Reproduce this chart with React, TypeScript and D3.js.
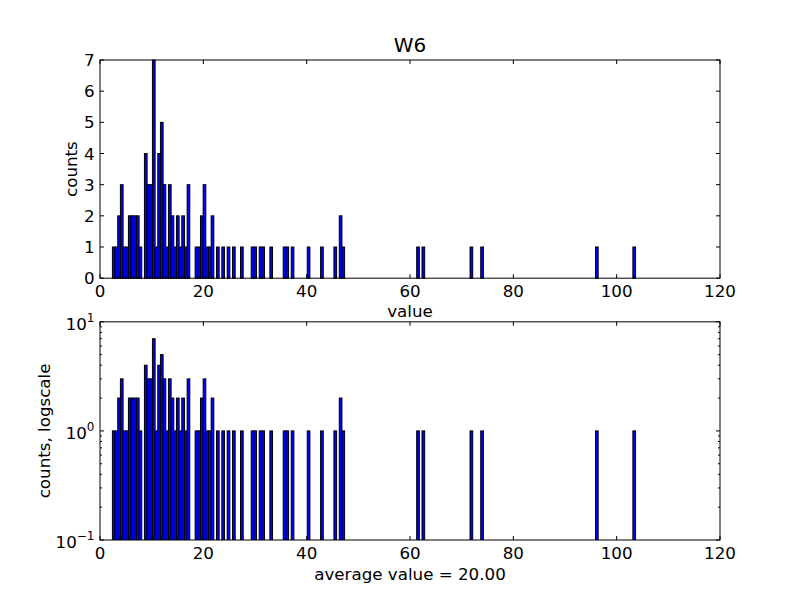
import React from "react";
import * as d3 from "d3";

// Histogram: equal bins starting at binStart, width binWidth (data units)
const binStart = 2.4;
const binWidth = 0.5166;
const binIndex = [0,1,2,3,4,5,6,7,8,9,10,12,13,14,15,16,17,18,19,20,21,22,23,24,25,26,27,28,31,32,33,34,35,36,37,39,41,43,45,48,52,53,55,56,59,64,65,67,73,78,83,85,86,114,116,134,138,181,195];
const binCounts = [1,1,2,3,1,1,2,2,2,2,1,4,3,3,7,1,4,5,3,1,3,2,1,2,1,2,1,3,1,1,2,3,1,1,2,1,1,1,1,1,1,1,1,1,1,1,1,1,1,1,1,2,1,1,1,1,1,1,1];

const xTicks = [0, 20, 40, 60, 80, 100, 120];
const yTicksTop = [0, 1, 2, 3, 4, 5, 6, 7];
const yTicksLog = [{ v: 0.1, e: "\u22121" }, { v: 1, e: "0" }, { v: 10, e: "1" }];
const titleText = "W6";
const topYLabel = "counts";
const topXLabel = "value";
const botYLabel = "counts, logscale";
const botXLabel = "average value = 20.00";

const W = 800, H = 600;
const L = 100, R = 720;
const topT = 60, topB = 278.18;
const botT = 321.82, botB = 540;
const FS = 16.7;
const font = "DejaVu Sans";

export default function App() {
  const x = d3.scaleLinear().domain([0, 120]).range([L, R]);
  const yTop = d3.scaleLinear().domain([0, 7]).range([topB, topT]);
  const yLog = d3.scaleLog().domain([0.1, 10]).range([botB, botT]);

  const bins = binIndex.map((b, i) => {
    const x0 = binStart + b * binWidth;
    return { x0, x1: x0 + binWidth, c: binCounts[i] };
  });

  const minorLog: number[] = [];
  [0.1, 1].forEach((dec) => {
    for (let k = 2; k <= 9; k++) minorLog.push(dec * k);
  });

  const xTickMarks = (top: number, bot: number) =>
    xTicks.map((t) => (
      <g key={"xt" + t + top}>
        <line x1={x(t)} x2={x(t)} y1={bot} y2={bot - 4} stroke="black" strokeWidth={1} />
        <line x1={x(t)} x2={x(t)} y1={top} y2={top + 4} stroke="black" strokeWidth={1} />
        <text x={x(t)} y={bot + 19} textAnchor="middle" fontSize={FS} fontFamily={font}>
          {t}
        </text>
      </g>
    ));

  return (
    <svg width={W} height={H} style={{ position: "absolute", left: 0, top: 0, background: "white" }}>
      <rect x={0} y={0} width={W} height={H} fill="white" />
      {/* Top axes */}
      <rect x={L} y={topT} width={R - L} height={topB - topT} fill="white" />
      {bins.map((b, i) => (
        <rect
          key={"bt" + i}
          x={x(b.x0)}
          y={yTop(b.c)}
          width={x(b.x1) - x(b.x0)}
          height={yTop(0) - yTop(b.c)}
          fill="#0000ff"
          stroke="black"
          strokeWidth={1}
        />
      ))}
      <rect x={L} y={topT} width={R - L} height={topB - topT} fill="none" stroke="black" strokeWidth={1} />
      {xTickMarks(topT, topB)}
      {yTicksTop.map((t) => (
        <g key={"yt" + t}>
          <line x1={L} x2={L + 4} y1={yTop(t)} y2={yTop(t)} stroke="black" strokeWidth={1} />
          <line x1={R} x2={R - 4} y1={yTop(t)} y2={yTop(t)} stroke="black" strokeWidth={1} />
          <text x={L - 5.5} y={yTop(t) + 6} textAnchor="end" fontSize={FS} fontFamily={font}>
            {t}
          </text>
        </g>
      ))}
      <text x={(L + R) / 2} y={52} textAnchor="middle" fontSize={20} fontFamily={font}>
        {titleText}
      </text>
      <text
        transform={`translate(${77},${(topT + topB) / 2}) rotate(-90)`}
        textAnchor="middle"
        fontSize={FS}
        fontFamily={font}
      >
        {topYLabel}
      </text>
      <text x={(L + R) / 2} y={317} textAnchor="middle" fontSize={FS} fontFamily={font}>
        {topXLabel}
      </text>

      {/* Bottom axes */}
      <defs>
        <clipPath id="botclip">
          <rect x={L} y={botT} width={R - L} height={botB - botT} />
        </clipPath>
      </defs>
      <g clipPath="url(#botclip)">
        {bins.map((b, i) => (
          <rect
            key={"bb" + i}
            x={x(b.x0)}
            y={yLog(b.c)}
            width={x(b.x1) - x(b.x0)}
            height={botB + 5 - yLog(b.c)}
            fill="#0000ff"
            stroke="black"
            strokeWidth={1}
          />
        ))}
      </g>
      <rect x={L} y={botT} width={R - L} height={botB - botT} fill="none" stroke="black" strokeWidth={1} />
      {xTickMarks(botT, botB)}
      {yTicksLog.map((t) => (
        <g key={"yl" + t.v}>
          <line x1={L} x2={L + 4} y1={yLog(t.v)} y2={yLog(t.v)} stroke="black" strokeWidth={1} />
          <line x1={R} x2={R - 4} y1={yLog(t.v)} y2={yLog(t.v)} stroke="black" strokeWidth={1} />
          <text x={L - 5.5} y={yLog(t.v) + 8} textAnchor="end" fontSize={FS} fontFamily={font}>
            10
            <tspan dy={-8} fontSize={12}>{t.e}</tspan>
          </text>
        </g>
      ))}
      {minorLog.map((v) => (
        <g key={"ml" + v}>
          <line x1={L} x2={L + 2} y1={yLog(v)} y2={yLog(v)} stroke="black" strokeWidth={1} />
          <line x1={R} x2={R - 2} y1={yLog(v)} y2={yLog(v)} stroke="black" strokeWidth={1} />
        </g>
      ))}
      <text
        transform={`translate(${50},${(botT + botB) / 2}) rotate(-90)`}
        textAnchor="middle"
        fontSize={FS}
        fontFamily={font}
      >
        {botYLabel}
      </text>
      <text x={(L + R) / 2} y={580} textAnchor="middle" fontSize={FS} fontFamily={font}>
        {botXLabel}
      </text>
    </svg>
  );
}
